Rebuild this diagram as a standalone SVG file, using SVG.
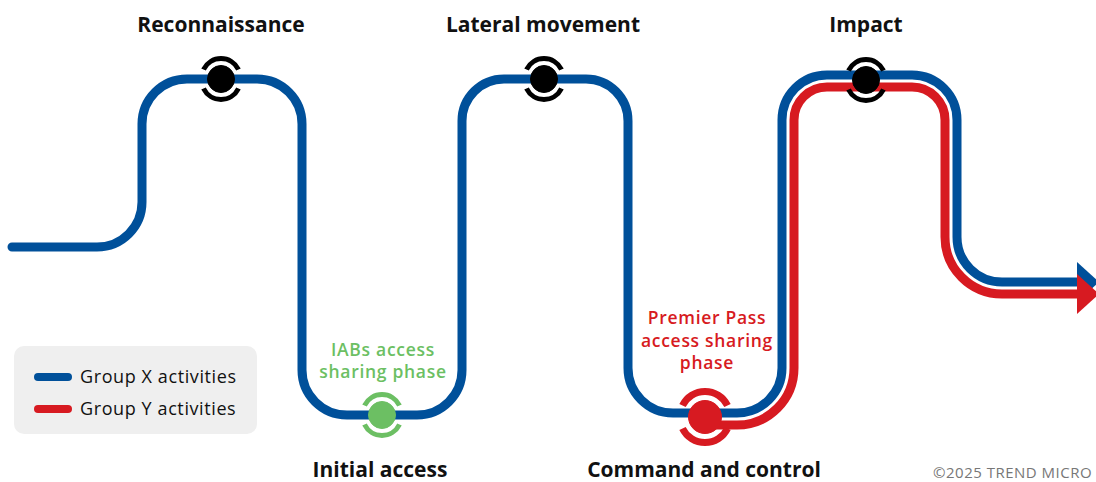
<svg xmlns="http://www.w3.org/2000/svg" width="1096" height="482" viewBox="0 0 1096 482">
<style>
.blue{fill:none;stroke:#00509a;stroke-width:9;stroke-linecap:round;stroke-linejoin:round}
.red{fill:none;stroke:#d71a21;stroke-width:9;stroke-linejoin:round}
.title{font-family:"Open Sans","Noto Sans",sans-serif;font-weight:700;font-size:21px;fill:#111;text-anchor:middle}
.phase{font-family:"Open Sans","Noto Sans",sans-serif;font-weight:600;font-size:17.5px;letter-spacing:0.7px;text-anchor:middle}
.leg{font-family:"Open Sans","Noto Sans",sans-serif;font-weight:500;font-size:18px;letter-spacing:0.6px;fill:#111}
.arc{fill:none;stroke-width:5}
</style>
<defs>
<g id="mk">
<path class="arc" d="M -17.5 -9.5 A 19.5 19.5 0 0 1 17.5 -9.5 M -17.5 9.5 A 19.5 19.5 0 0 0 17.5 9.5"/>
<circle r="13.5"/>
</g>
<g id="mkL">
<path class="arc" style="stroke-width:7" d="M -22.5 -11.5 A 25 25 0 0 1 22.5 -11.5 M -22.5 11.5 A 25 25 0 0 0 22.5 11.5"/>
<circle r="16.5"/>
</g>
</defs>
<rect x="14" y="346" width="243" height="88" rx="10" fill="#efefef"/>
<g id="connectors">
<path class="blue" d="M 12 247 H 97 A 45 45 0 0 0 142 202 V 124 A 45 45 0 0 1 187 79 H 257 A 45 45 0 0 1 302 124 V 370 A 45 45 0 0 0 347 415 H 417 A 45 45 0 0 0 462 370 V 121 A 42 42 0 0 1 504 79 H 586 A 42 42 0 0 1 628 121 V 368 A 45 45 0 0 0 673 413 H 737 A 45 45 0 0 0 782 368 V 120 A 45 45 0 0 1 827 75 H 912 A 45 45 0 0 1 957 120 V 237 A 45 45 0 0 0 1002 282 H 1080"/>
<polygon fill="#00509a" points="1077,262 1099,282 1077,302"/>
<path class="red" d="M 705 425 H 737 A 57 57 0 0 0 794 368 V 120 A 33 33 0 0 1 827 87 H 912 A 33 33 0 0 1 945 120 V 237 A 57 57 0 0 0 1002 294 H 1080"/>
<polygon fill="#d71a21" points="1077,274 1099,294 1077,314"/>
</g>
<g id="recon"><use href="#mk" x="221" y="79" fill="#000" stroke="#000"/><text class="title" x="221" y="32">Reconnaissance</text></g>
<g id="lateral"><use href="#mk" x="544" y="79" fill="#000" stroke="#000"/><text class="title" x="543" y="32">Lateral movement</text></g>
<g id="impact"><use href="#mk" x="866" y="80" fill="#000" stroke="#000"/><text class="title" x="866" y="32">Impact</text></g>
<g id="initial"><use href="#mk" x="382" y="415" fill="#6cbf63" stroke="#6cbf63"/><text class="title" x="380" y="477">Initial access</text>
<text class="phase" fill="#6cbf63" x="383" y="356">IABs access</text><text class="phase" fill="#6cbf63" x="383" y="378">sharing phase</text></g>
<g id="c2"><use href="#mkL" x="705" y="417" fill="#d71a21" stroke="#d71a21"/><text class="title" x="704" y="477">Command and control</text>
<text class="phase" fill="#d71a21" x="707" y="324">Premier Pass</text><text class="phase" fill="#d71a21" x="707" y="347">access sharing</text><text class="phase" fill="#d71a21" x="707" y="369">phase</text></g>
<g id="legend">
<line x1="38" y1="377" x2="68" y2="377" stroke="#00509a" stroke-width="8" stroke-linecap="round"/>
<text class="leg" x="80" y="383">Group X activities</text>
<line x1="38" y1="409" x2="68" y2="409" stroke="#d71a21" stroke-width="8" stroke-linecap="round"/>
<text class="leg" x="80" y="415">Group Y activities</text>
</g>
<text x="933" y="478" font-family="'Open Sans','Noto Sans',sans-serif" font-size="15" letter-spacing="0.5" fill="#777">©2025 TREND MICRO</text>
</svg>
